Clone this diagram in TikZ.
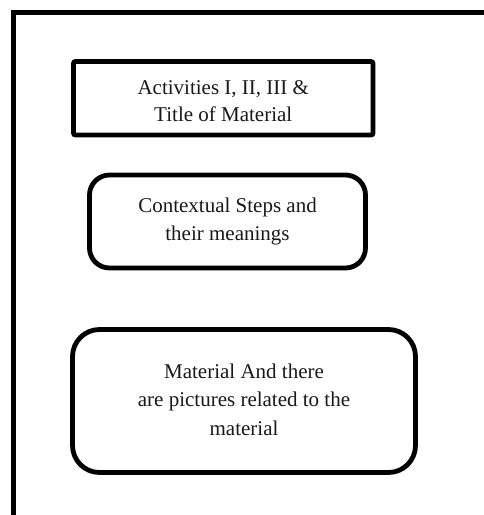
\documentclass[tikz,border=0pt]{standalone}
\usepackage{fontspec}
\setmainfont{Liberation Serif}
\begin{document}
\begin{tikzpicture}[x=1pt,y=-1pt,
  frame/.style={line width=5pt, line cap=butt},
  boxa/.style={draw, line width=4.8pt, rounded corners=2pt, inner sep=0pt},
  boxb/.style={draw, line width=4.8pt, rounded corners=20pt, inner sep=0pt},
  boxc/.style={draw, line width=4.8pt, rounded corners=27pt, inner sep=0pt},
  txt/.style={align=center, inner sep=0pt, text=black!90}]
\useasboundingbox (0,0) rectangle (484,515);
\fill[white] (0,0) rectangle (484,515);
\coordinate (fb) at (13.5,530);
\coordinate (fc) at (13.5,12.5);
\coordinate (fr) at (500,12.5);
\draw[frame] (fb) -- (fc) -- (fr);
\node[boxa, minimum width=299.5pt, minimum height=73.5pt] (b1) at (223.25,98.25) {};
\node[txt, font=\fontsize{21}{26.5}\selectfont] (t1) at ([yshift=-2.9pt]b1.center) {Activities I, II, III \&\\Title of Material};
\node[boxb, minimum width=276pt, minimum height=93pt] (b2) at (227.5,221.5) {};
\node[txt, font=\fontsize{21}{27.3}\selectfont] (t2) at (b2.center) {Contextual Steps and\\their meanings};
\node[boxc, minimum width=343pt, minimum height=143pt] (b3) at (244,401) {};
\node[txt, font=\fontsize{21}{28.4}\selectfont] (t3) at ([yshift=1.5pt]b3.center) {Material And there\\are pictures related to the\\material};
\end{tikzpicture}
\end{document}
